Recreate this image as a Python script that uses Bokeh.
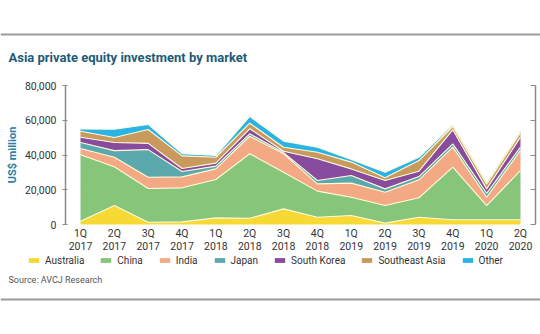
from bokeh.plotting import figure
from bokeh.models import (ColumnDataSource, FixedTicker, LinearAxis, Range1d, Legend, LegendItem,
                          NumeralTickFormatter, Label, Span)
from bokeh.embed import file_html
from bokeh.resources import INLINE

quarters = ["1Q\n2017", "2Q\n2017", "3Q\n2017", "4Q\n2017", "1Q\n2018", "2Q\n2018", "3Q\n2018",
            "4Q\n2018", "1Q\n2019", "2Q\n2019", "3Q\n2019", "4Q\n2019", "1Q\n2020", "2Q\n2020"]
australia = [1900, 10900, 1300, 1500, 3800, 3600, 9000, 4200, 5200, 800, 4200, 2700, 2700, 2700]
china = [38200, 22300, 19400, 19600, 22100, 37100, 21100, 15000, 10500, 10100, 11200, 30300, 8200, 28400]
india = [3600, 5500, 6500, 6300, 6100, 10100, 10600, 4200, 8100, 7700, 10300, 11500, 4800, 11500]
japan = [3500, 3800, 15900, 3100, 1600, 1400, 700, 1900, 4400, 1900, 1900, 1900, 2300, 1900]
south_korea = [3000, 4700, 3600, 1700, 1700, 2900, 800, 12500, 3800, 4800, 3100, 8100, 2500, 5800]
southeast_asia = [3500, 2900, 8000, 7300, 3400, 3200, 2300, 3800, 3900, 1600, 6100, 1900, 2700, 2500]
other = [1300, 4700, 2900, 1300, 1000, 3900, 3500, 2900, 1500, 3200, 1900, 1000, 1000, 900]
series_names = ["Australia", "China", "India", "Japan", "South Korea", "Southeast Asia", "Other"]
y_ticks = [0, 20000, 40000, 60000, 80000]
y_max = 80000

colors = ["#F6D935", "#86C57A", "#F4A985", "#5CA9AD", "#874C9E", "#C99A5E", "#2AB4E6"]
font = "Roboto"
rule_color = "#9A9A9A"
axis_color = "#8A8A8A"

W, H = 540, 334
# layout in pixels: first/last quarter centres and y=0 / y=max rows
X0, X1 = 80, 520
Y0, YTOP = 224, 85
AX_L, AX_R = 65, 535

n = len(quarters)
ux = (X1 - X0) / (n - 1)
uy = (Y0 - YTOP) / y_max


def px_x(px):
    return (px - X0) / ux


def px_y(py):
    return (Y0 - py) / uy


keys = ["australia", "china", "india", "japan", "south_korea", "southeast_asia", "other"]
src = ColumnDataSource(dict(x=list(range(n)), australia=australia, china=china, india=india,
                            japan=japan, south_korea=south_korea, southeast_asia=southeast_asia, other=other))

p = figure(width=W, height=H, output_backend="svg", toolbar_location=None,
           x_range=Range1d(px_x(0), px_x(W)), y_range=Range1d(px_y(H), px_y(0)),
           x_axis_type=None, y_axis_type=None, min_border=0)
p.outline_line_color = None
p.grid.visible = False

areas = p.varea_stack(stackers=keys, x="x", color=colors, source=src)
p.vline_stack(stackers=keys, x="x", color="#FFF8DA", line_width=1.1, source=src)

xa = LinearAxis(fixed_location=0, ticker=FixedTicker(ticks=list(range(n))),
                major_label_overrides={i: q for i, q in enumerate(quarters)},
                axis_line_color=None, major_tick_line_color=None, minor_tick_line_color=None,
                major_tick_in=0, major_tick_out=0,
                major_label_text_font=font, major_label_text_font_size="10.5px",
                major_label_text_color="#333333", major_label_standoff=2,
                major_label_text_line_height=1.0)
p.add_layout(xa, "below")

ya = LinearAxis(fixed_location=px_x(AX_L), ticker=FixedTicker(ticks=y_ticks), bounds=(0, y_max),
                formatter=NumeralTickFormatter(format="0,0"),
                axis_line_color=axis_color, axis_line_width=1.5, major_tick_line_color=axis_color,
                major_tick_in=2, major_tick_out=3, minor_tick_line_color=None,
                major_label_text_font=font, major_label_text_font_size="10.5px",
                major_label_text_color="#333333", major_label_standoff=6,
                axis_label="US$ million", axis_label_text_font=font, axis_label_text_font_style="bold",
                axis_label_text_font_size="11px", axis_label_text_color="#2A82A6", axis_label_standoff=3)
p.add_layout(ya, "left")

ra = LinearAxis(fixed_location=px_x(AX_R), ticker=FixedTicker(ticks=y_ticks), bounds=(0, y_max),
                major_label_overrides={t: "" for t in y_ticks},
                axis_line_color=axis_color, axis_line_width=1.5, major_tick_line_color=axis_color,
                major_tick_in=5, major_tick_out=0, minor_tick_line_color=None, major_label_standoff=0)
p.add_layout(ra, "right")

items = [LegendItem(label=nm, renderers=[r]) for nm, r in zip(series_names, areas)]
leg = Legend(items=items, orientation="horizontal", location=(27, H - 266),
             glyph_width=13, glyph_height=6, label_standoff=5, spacing=15, padding=0, margin=0,
             border_line_color=None, background_fill_alpha=0,
             label_text_font=font, label_text_font_size="10px", label_text_color="#333333",
             label_height=12, label_width=10)
p.add_layout(leg, "center")

p.add_layout(Label(x=8, y=H - 57, x_units="screen", y_units="screen",
                   text="Asia private equity investment by market",
                   text_font=font, text_font_size="13px", text_font_style="bold", text_color="#1E5B78",
                   text_baseline="middle"))
p.add_layout(Label(x=8, y=H - 279, x_units="screen", y_units="screen", text="Source: AVCJ Research",
                   text_font=font, text_font_size="9px", text_color="#555555", text_baseline="middle"))

p.add_layout(Span(location=px_y(34), dimension="width", line_color=rule_color, line_width=2))
p.add_layout(Span(location=px_y(299), dimension="width", line_color=rule_color, line_width=2))

open("out.html", "w").write(file_html(p, INLINE))
